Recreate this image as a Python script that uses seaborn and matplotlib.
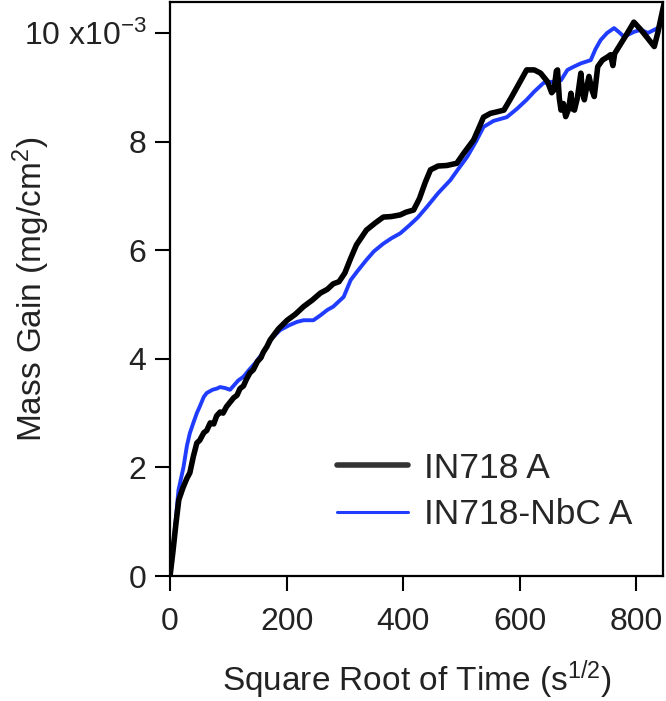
#!/usr/bin/env python3
"""Mass gain vs square root of time for IN718 A and IN718-NbC A."""

import pandas as pd
import seaborn as sns
import matplotlib

matplotlib.use("Agg")
import matplotlib.pyplot as plt

# values, mass gain in units of 1e-3 mg/cm^2
in718_x = [0, 5, 10, 15, 22, 29, 34, 40, 46, 51, 58, 63, 69, 75, 80, 86, 91,
           97, 103, 109, 115, 120, 126, 131, 137, 143, 150, 156, 160, 166, 172,
           186, 201, 215, 229, 244, 258, 270, 280, 290, 300, 310, 320, 337, 352,
           366, 380, 395, 405, 418, 428, 438, 447, 460, 475, 492, 505, 521, 530,
           538, 550, 562, 573, 585, 598, 612, 625, 636, 648, 655, 659, 663, 665,
           668, 671, 675, 679, 684, 688, 691, 694, 699, 705, 708, 711, 715, 719,
           724, 728, 734, 742, 751, 756, 760, 763, 774, 785, 796, 808, 820, 831,
           837, 843, 848]
in718_y = [0, 0.45, 0.95, 1.4, 1.62, 1.8, 1.9, 2.2, 2.45, 2.5, 2.64, 2.68,
           2.82, 2.8, 2.95, 3.02, 3.0, 3.12, 3.2, 3.28, 3.33, 3.45, 3.5, 3.62,
           3.74, 3.8, 3.95, 4.02, 4.12, 4.22, 4.35, 4.55, 4.71, 4.82, 4.96, 5.08,
           5.21, 5.28, 5.38, 5.42, 5.58, 5.85, 6.1, 6.37, 6.5, 6.61, 6.62, 6.65,
           6.7, 6.74, 6.95, 7.25, 7.48, 7.55, 7.56, 7.6, 7.8, 8.03, 8.25, 8.45,
           8.52, 8.55, 8.58, 8.8, 9.05, 9.32, 9.32, 9.26, 9.1, 8.9, 8.95, 9.3,
           9.32, 8.8, 8.58, 8.7, 8.46, 8.6, 8.89, 8.6, 8.58, 8.8, 9.26, 8.9, 8.77,
           9.0, 9.2, 8.95, 8.83, 9.38, 9.5, 9.56, 9.6, 9.4, 9.62, 9.81, 10.0,
           10.2, 10.06, 9.9, 9.75, 10.0, 10.3, 10.55]

nbc_x = [0, 5, 10, 14.5, 23, 29, 34, 40, 46, 51, 58, 63, 73, 80, 86, 95, 103,
         117, 126, 136, 146, 160, 175, 189, 205, 218, 229, 246, 258, 270, 280,
         298, 310, 322, 337, 350, 366, 380, 395, 410, 425, 441, 460, 481, 495,
         510, 525, 538, 555, 578, 595, 612, 625, 641, 655, 671, 682, 693, 705,
         722, 730, 739, 750, 762, 770, 779, 796, 808, 820, 837, 851]
nbc_y = [0, 0.5, 1.05, 1.58, 2.0, 2.4, 2.63, 2.82, 3.0, 3.12, 3.3, 3.37, 3.43,
         3.45, 3.48, 3.46, 3.43, 3.6, 3.67, 3.8, 3.92, 4.12, 4.38, 4.53, 4.62,
         4.68, 4.71, 4.71, 4.8, 4.9, 4.96, 5.14, 5.45, 5.62, 5.82, 5.98, 6.12,
         6.22, 6.31, 6.45, 6.6, 6.8, 7.05, 7.29, 7.5, 7.72, 8.0, 8.27, 8.38,
         8.45, 8.6, 8.77, 8.92, 9.08, 9.1, 9.13, 9.32, 9.38, 9.44, 9.5, 9.7,
         9.87, 10.0, 10.09, 10.02, 9.93, 10.02, 10.06, 10.0, 10.09, 10.27]

x_ticks = [0, 200, 400, 600, 800]
y_ticks = [0, 2, 4, 6, 8, 10]
y_tick_labels = ["0", "2", "4", "6", "8", "10 x10$^{-3}$"]


def main() -> None:
    df = pd.concat([
        pd.DataFrame({"t": in718_x, "gain": in718_y, "sample": "IN718 A"}),
        pd.DataFrame({"t": nbc_x, "gain": nbc_y, "sample": "IN718-NbC A"}),
    ])

    sns.set_theme(style="ticks")
    plt.rcParams["font.family"] = ["Liberation Sans", "DejaVu Sans"]
    plt.rcParams["mathtext.fontset"] = "custom"
    plt.rcParams["mathtext.rm"] = "Liberation Sans"
    plt.rcParams["mathtext.it"] = "Liberation Sans:italic"

    fig = plt.figure(figsize=(6.66, 7.01), dpi=100)
    ax = fig.add_axes([0.2553, 0.1783, 0.7402, 0.8188])

    sns.lineplot(
        ax=ax,
        data=df,
        x="t",
        y="gain",
        hue="sample",
        palette={"IN718 A": "black", "IN718-NbC A": "#1f3cff"},
        sort=False,
        estimator=None,
        legend=False,
    )
    ax.lines[0].set_linewidth(4.0)
    ax.lines[1].set_linewidth(2.8)
    ax.lines[1].set_zorder(1.9)  # blue sits under black like the original

    ax.set_xlim(0, 846)
    ax.set_ylim(0, 10.57)
    ax.set_xticks(x_ticks)
    ax.set_yticks(y_ticks)
    ax.set_yticklabels(y_tick_labels)
    ax.tick_params(axis="both", direction="out", length=11, width=1.5,
                   labelsize=23, color="black", labelcolor="#222222")
    ax.tick_params(axis="x", pad=11)
    ax.tick_params(axis="y", pad=6)
    for sp in ax.spines.values():
        sp.set_linewidth(1.6)
        sp.set_color("black")

    ax.set_xlabel("Square Root of Time (s$^{1/2}$)", fontsize=24,
                  color="#222222")
    ax.xaxis.set_label_coords(0.5, -0.143)
    ax.set_ylabel("Mass Gain (mg/cm$^{2}$)", fontsize=24, color="#222222")
    ax.yaxis.set_label_coords(-0.239, 0.5)

    handles = [
        plt.Line2D([], [], color="#333333", linewidth=4.0),
        plt.Line2D([], [], color="#1f3cff", linewidth=2.2),
    ]
    ax.legend(handles, ["IN718 A", "IN718-NbC A"], frameon=False,
              fontsize=25.5, loc="lower left", bbox_to_anchor=(0.31, 0.053),
              handlelength=2.0, handletextpad=0.45, labelspacing=0.39,
              borderaxespad=0)

    fig.savefig("out.png", dpi=100)


if __name__ == "__main__":
    main()
